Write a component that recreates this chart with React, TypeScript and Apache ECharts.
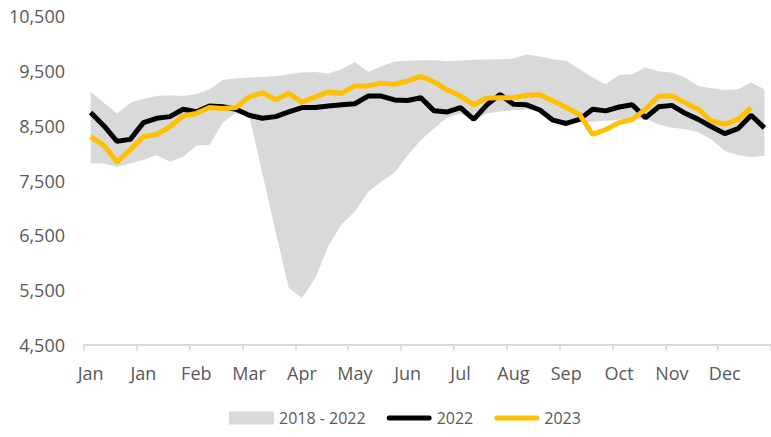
import React, { useEffect, useRef } from "react";
import * as echarts from "echarts";

// 52 weekly categories; a tick label every 4th week
const weekCount = 52;
const tickLabels = ["Jan", "Jan", "Feb", "Mar", "Apr", "May", "Jun", "Jul", "Aug", "Sep", "Oct", "Nov", "Dec"];

// 2018 - 2022 range (min / max)
const bandLower = [
  7815, 7810, 7750, 7810, 7875, 7960, 7840, 7935, 8140, 8150, 8555, 8730, 8690,
  7630, 6567, 5540, 5355, 5720, 6310, 6700, 6935, 7290, 7480, 7640, 7960, 8240,
  8450, 8650, 8720, 8600, 8720, 8760, 8780, 8800, 8770, 8590, 8530, 8560, 8570,
  8590, 8610, 8630, 8630, 8520, 8460, 8440, 8380, 8250, 8040, 7960, 7930, 7950,
];
const bandUpper = [
  9115, 8920, 8724, 8920, 8993, 9042, 9054, 9042, 9072, 9163, 9334, 9359, 9377,
  9389, 9407, 9438, 9468, 9481, 9450, 9529, 9663, 9481, 9578, 9670, 9682, 9694,
  9694, 9676, 9688, 9700, 9706, 9712, 9724, 9804, 9761, 9712, 9682, 9529, 9377,
  9255, 9426, 9438, 9560, 9487, 9468, 9377, 9224, 9182, 9151, 9163, 9285, 9163,
];
const values2022 = [
  8740, 8500, 8215, 8250, 8555, 8635, 8665, 8800, 8755, 8860, 8845, 8800, 8690,
  8635, 8665, 8750, 8830, 8830, 8860, 8880, 8900, 9040, 9040, 8970, 8960, 9010,
  8770, 8750, 8830, 8615, 8880, 9070, 8890, 8880, 8785, 8600, 8540, 8615, 8800,
  8770, 8840, 8880, 8645, 8845, 8870, 8725, 8615, 8480, 8355, 8445, 8690, 8460,
];
const values2023 = [
  8300, 8140, 7835, 8065, 8300, 8340, 8480, 8675, 8725, 8830, 8815, 8830, 9025,
  9100, 8970, 9090, 8930, 9025, 9115, 9090, 9225, 9225, 9275, 9255, 9315, 9400,
  9300, 9150, 9040, 8880, 9005, 9010, 9010, 9055, 9065, 8950, 8830, 8705, 8340,
  8430, 8555, 8615, 8800, 9040, 9040, 8920, 8800, 8585, 8525, 8615, 8830, null,
];

const FONT = "'Open Sans', 'Noto Sans', sans-serif";
const TEXT_COLOR = "#595959";
const LINE_ICON = "path://M2.5,0 L42.5,0 A2.5,2.5 0 0 1 42.5,5 L2.5,5 A2.5,2.5 0 0 1 2.5,0 Z";

function fmt(v: number): string {
  const s = String(Math.round(v));
  return s.replace(/\B(?=(\d{3})+(?!\d))/g, ",");
}

export default function App() {
  const ref = useRef<HTMLDivElement>(null);
  useEffect(() => {
    if (!ref.current) return;
    const chart = echarts.init(ref.current, undefined, { renderer: "svg" });
    const categories = Array.from({ length: weekCount }, (_, i) => "W" + (i + 1));
    const bandDiff = bandUpper.map((u, i) => u - bandLower[i]);
    chart.setOption({
      animation: false,
      backgroundColor: "#ffffff",
      grid: { left: 84, top: 16, width: 690, bottom: 92, containLabel: false },
      legend: {
        left: 229,
        top: 410,
        padding: 0,
        itemWidth: 45,
        itemHeight: 13,
        itemGap: 21,
        symbolKeepAspect: true,
        textStyle: { fontFamily: FONT, fontSize: 16, color: TEXT_COLOR },
        data: [
          { name: "2018 - 2022", icon: "rect", itemStyle: { color: "#d9d9d9" } },
          { name: "2022", icon: LINE_ICON, itemStyle: { color: "#000000" } },
          { name: "2023", icon: LINE_ICON, itemStyle: { color: "#ffc000" } },
        ],
      },
      xAxis: {
        type: "category",
        data: categories,
        boundaryGap: true,
        axisLine: { show: true, lineStyle: { color: "#d9d9d9", width: 2 } },
        axisTick: { show: true, interval: 3, length: 6, lineStyle: { color: "#d9d9d9", width: 1.5 } },
        axisLabel: {
          interval: 3,
          margin: 19,
          fontFamily: FONT,
          fontSize: 18,
          color: TEXT_COLOR,
          formatter: (_v: string, idx: number) => tickLabels[Math.floor(idx / 4)] ?? "",
        },
        splitLine: { show: false },
      },
      yAxis: {
        type: "value",
        min: 4500,
        max: 10500,
        interval: 500,
        axisLine: { show: false },
        axisTick: { show: false },
        splitLine: { show: false },
        axisLabel: {
          margin: 19,
          fontFamily: FONT,
          fontSize: 18,
          color: TEXT_COLOR,
          formatter: (v: number) => ((v - 4500) % 1000 === 0 ? fmt(v) : ""),
        },
      },
      series: [
        {
          name: "bandLower",
          type: "line",
          stack: "band",
          data: bandLower,
          symbol: "none",
          lineStyle: { opacity: 0 },
          silent: true,
        },
        {
          name: "2018 - 2022",
          type: "line",
          stack: "band",
          data: bandDiff,
          symbol: "none",
          lineStyle: { opacity: 0 },
          itemStyle: { color: "#d9d9d9" },
          areaStyle: { color: "#d9d9d9", opacity: 1 },
          silent: true,
        },
        {
          name: "2022",
          type: "line",
          data: values2022,
          symbol: "none",
          itemStyle: { color: "#000000" },
          lineStyle: { color: "#000000", width: 5 },
        },
        {
          name: "2023",
          type: "line",
          data: values2023,
          symbol: "none",
          itemStyle: { color: "#ffc000" },
          lineStyle: { color: "#ffc000", width: 5 },
        },
      ],
    });
    return () => chart.dispose();
  }, []);
  return (
    <div
      ref={ref}
      style={{ position: "fixed", left: 0, top: 0, width: 771, height: 437, background: "#fff" }}
    />
  );
}
